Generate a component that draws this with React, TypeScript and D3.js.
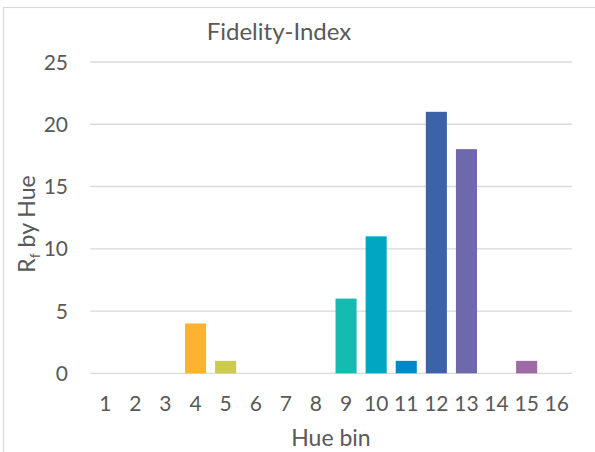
import React from "react";
import * as d3 from "d3";

const categories = ["1","2","3","4","5","6","7","8","9","10","11","12","13","14","15","16"];
const values = [0,0,0,4,1,0,0,0,6,11,1,21,18,0,1,0];
const colors = ["#F0524F","#F47B3C","#F79A36","#FDB32D","#CBCB4C","#8DC553","#4DBA6E","#1EB88F","#15BBB1","#00A6C2","#0087C7","#3C62AA","#6E68AD","#8D68AA","#9F69A4","#B86A9A"];
const yTicks = [0,5,10,15,20,25];
const title = "Fidelity-Index";
const xTitle = "Hue bin";

const W = 595, H = 452;
const FONT = "Lato, 'Open Sans', sans-serif";
const TXT = "#595959";

export default function App() {
  const x = d3.scaleBand<string>().domain(categories).range([90.2, 571.8]).paddingInner(0.3).paddingOuter(0.15);
  const y = d3.scaleLinear().domain([0, 25]).range([373.3, 62]);
  return (
    <svg width={W} height={H} style={{ position: "absolute", left: 0, top: 0, background: "#fff" }}>
      <rect x={3.5} y={7.5} width={W + 10} height={H + 10} fill="#fff" stroke="#d9d9d9" strokeWidth={1.2} />
      <text x={279} y={39.5} textAnchor="middle" fontFamily={FONT} fontSize={24} fill={TXT}>{title}</text>
      {yTicks.map(t => (
        <g key={t}>
          <line x1={90.2} x2={571.8} y1={y(t)} y2={y(t)} stroke="#d9d9d9" strokeWidth={1.3} />
          <text x={68} y={y(t)} dy="0.36em" textAnchor="end" fontFamily={FONT} fontSize={21} fill={TXT}>{t}</text>
        </g>
      ))}
      {categories.map((c, i) => (
        values[i] > 0 ? (
          <rect key={c} x={x(c)} y={y(values[i])} width={x.bandwidth()} height={y(0) - y(values[i])} fill={colors[i]} />
        ) : null
      ))}
      {categories.map(c => (
        <text key={c} x={(x(c) as number) + x.bandwidth() / 2} y={411} textAnchor="middle" fontFamily={FONT} fontSize={21} fill={TXT}>{c}</text>
      ))}
      <text x={331} y={446} textAnchor="middle" fontFamily={FONT} fontSize={23} fill={TXT}>{xTitle}</text>
      <text transform="translate(35,224) rotate(-90)" textAnchor="middle" fontFamily={FONT} fontSize={23} fill={TXT}>
        R<tspan fontSize={14} dy={5}>f</tspan><tspan dy={-5}> by Hue</tspan>
      </text>
    </svg>
  );
}
